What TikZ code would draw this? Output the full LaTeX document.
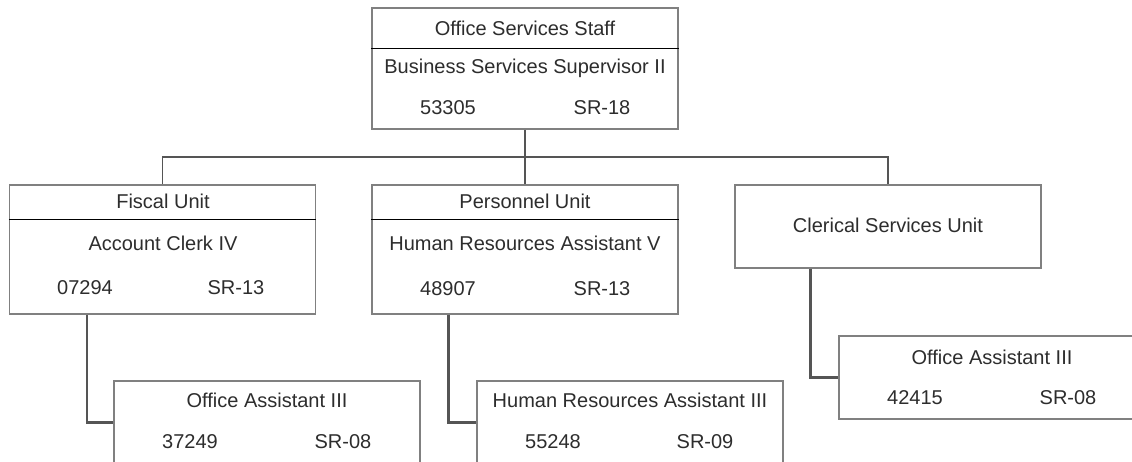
\documentclass[tikz,border=0pt]{standalone}
\usepackage{fontspec}
\setmainfont{Liberation Sans}
\usepackage{xcolor}
\usepackage{tikz}
\usetikzlibrary{positioning}
\definecolor{boxgray}{RGB}{128, 128, 128}
\definecolor{linegray}{RGB}{85, 85, 85}
\definecolor{textgray}{RGB}{45, 45, 45}

\tikzset{
  unitbox/.style={rectangle, draw=boxgray, line width=1.4pt, fill=white,
                  minimum width=306pt, inner sep=0pt},
  label/.style={text=textgray, inner sep=0pt, font=\fontsize{20}{24}\selectfont},
  divider/.style={draw=black, line width=1.4pt},
  link/.style={draw=linegray, line width=2.4pt}
}

\begin{document}
\begin{tikzpicture}[x=1pt, y=-1pt]
  \clip (0,0) rectangle (1132,462);
  \fill[white] (0,0) rectangle (1132,462);

  % boxes
  \node[unitbox, minimum height=121pt] (staff) at (525,68.5) {};
  \node[unitbox, minimum height=129pt] (fiscal) at (162.5,249.5) {};
  \node[unitbox, minimum height=129pt] (personnel) at (525,249.5) {};
  \node[unitbox, minimum height=83pt] (clerical) at (888,226.5) {};
  \node[unitbox, minimum height=83pt] (fiscalOA) at (267,422.5) {};
  \node[unitbox, minimum height=83pt] (personnelHR) at (630,422.5) {};
  \node[unitbox, minimum height=83pt] (clericalOA) at (992,377.5) {};

  % connectors
  \coordinate (bus) at (525,157);
  \draw[link, line width=1.6pt] (staff.south) -- (personnel.north);
  \draw[link, line width=1.6pt] (fiscal.north) |- (bus) -| (clerical.north);
  \draw[link] ([xshift=78pt]fiscal.south west) |- (fiscalOA.west);
  \draw[link] ([xshift=77pt]personnel.south west) |- (personnelHR.west);
  \draw[link] ([xshift=76pt]clerical.south west) |- (clericalOA.west);

  % title rules
  \draw[divider] ([yshift=-41pt]staff.north west) -- ([yshift=-41pt]staff.north east);
  \draw[divider] ([yshift=-35pt]fiscal.north west) -- ([yshift=-35pt]fiscal.north east);
  \draw[divider] ([yshift=-35pt]personnel.north west) -- ([yshift=-35pt]personnel.north east);

  % texts
  \node[label] (staffName) at (525,28) {Office Services Staff};
  \node[label] (staffPos) at (525,68) {Business Services Supervisor II};
  \node[label] (staffCode) at (448,108) {53305};
  \node[label] (staffGrade) at (602,108) {SR-18};

  \node[label] (fiscalName) at (163,201) {Fiscal Unit};
  \node[label] (fiscalPos) at (163,243) {Account Clerk IV};
  \node[label] (fiscalCode) at (85,288) {07294};
  \node[label] (fiscalGrade) at (236,288) {SR-13};

  \node[label] (personnelName) at (525,201) {Personnel Unit};
  \node[label] (personnelPos) at (525,243) {Human Resources Assistant V};
  \node[label] (personnelCode) at (448,289) {48907};
  \node[label] (personnelGrade) at (602,289) {SR-13};

  \node[label] (clericalName) at (888,225) {Clerical Services Unit};

  \node[label] (fiscalOAPos) at (267,400) {Office Assistant III};
  \node[label] (fiscalOACode) at (190,442) {37249};
  \node[label] (fiscalOAGrade) at (343,442) {SR-08};

  \node[label] (personnelHRPos) at (630,400) {Human Resources Assistant III};
  \node[label] (personnelHRCode) at (553,442) {55248};
  \node[label] (personnelHRGrade) at (705,442) {SR-09};

  \node[label] (clericalOAPos) at (992,357) {Office Assistant III};
  \node[label] (clericalOACode) at (915,398) {42415};
  \node[label] (clericalOAGrade) at (1068,398) {SR-08};
\end{tikzpicture}
\end{document}
